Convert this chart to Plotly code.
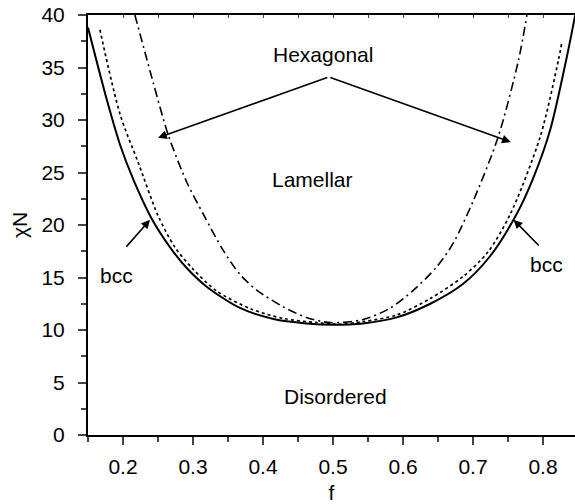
import plotly.graph_objects as go

# order-disorder boundary (solid)
f_odt = [0.150, 0.177, 0.196, 0.215, 0.241, 0.267, 0.291, 0.320, 0.367, 0.415, 0.462, 0.500,
         0.543, 0.591, 0.639, 0.686, 0.724, 0.762, 0.785, 0.810, 0.834, 0.846]
chi_odt = [38.8, 31.9, 27.6, 24.3, 20.6, 17.9, 15.9, 14.1, 12.1, 11.05, 10.63, 10.5,
           10.63, 11.2, 12.5, 14.4, 17.0, 21.0, 24.3, 29.0, 36.0, 40.0]

# bcc / hexagonal boundary (dotted)
f_bh = [0.167, 0.196, 0.222, 0.250, 0.274, 0.300, 0.334, 0.383, 0.429, 0.477, 0.510,
        0.543, 0.591, 0.639, 0.686, 0.721, 0.753, 0.796, 0.822, 0.827]
chi_bh = [38.6, 30.5, 25.9, 20.9, 17.9, 15.8, 13.7, 12.0, 11.1, 10.7, 10.55,
          10.8, 11.43, 13.0, 15.1, 17.4, 21.0, 28.4, 35.7, 37.4]

# hexagonal / lamellar boundary (dash-dot)
f_hl = [0.217, 0.243, 0.265, 0.291, 0.315, 0.343, 0.367, 0.391, 0.429, 0.462, 0.496,
        0.543, 0.581, 0.615, 0.648, 0.672, 0.701, 0.736, 0.765, 0.777]
chi_hl = [40.0, 33.6, 28.5, 24.1, 21.0, 17.6, 15.3, 13.8, 12.2, 11.2, 10.7,
          11.0, 12.06, 13.8, 16.0, 18.3, 22.4, 28.4, 35.7, 40.0]

fnt = dict(family="Liberation Sans, Arial, sans-serif", size=21, color="black")

fig = go.Figure()
fig.add_trace(go.Scatter(x=f_odt, y=chi_odt, mode="lines", line=dict(color="black", width=2, shape="spline", smoothing=0.8), showlegend=False))
fig.add_trace(go.Scatter(x=f_bh, y=chi_bh, mode="lines", line=dict(color="black", width=1.7, dash="3px,3px", shape="spline", smoothing=0.8), showlegend=False))
fig.add_trace(go.Scatter(x=f_hl, y=chi_hl, mode="lines", line=dict(color="black", width=1.6, dash="9px,4px,2px,4px", shape="spline", smoothing=0.8), showlegend=False))
# dummy trace so the top axis gets drawn
fig.add_trace(go.Scatter(x=[None], y=[None], xaxis="x2", showlegend=False))

arr = dict(showarrow=True, arrowhead=2, arrowsize=1.1, arrowwidth=1.6, arrowcolor="black",
           axref="x", ayref="y", text="", standoff=0)
annos = [
    dict(x=0.250, y=28.3, ax=0.494, ay=34.1, **arr),
    dict(x=0.754, y=27.9, ax=0.494, ay=34.1, **arr),
    dict(x=0.2386, y=20.5, ax=0.203, ay=17.8, **arr),
    dict(x=0.758, y=20.5, ax=0.796, ay=17.9, **arr),
    dict(x=0.486, y=36.2, text="Hexagonal", showarrow=False, font=fnt),
    dict(x=0.470, y=24.3, text="Lamellar", showarrow=False, font=fnt),
    dict(x=0.503, y=3.64, text="Disordered", showarrow=False, font=fnt),
    dict(x=0.190, y=15.2, text="bcc", showarrow=False, font=fnt),
    dict(x=0.805, y=16.2, text="bcc", showarrow=False, font=fnt),
]

xr = [0.15, 0.8457]
fig.update_layout(
    width=575, height=504,
    margin=dict(l=88, r=0, t=15, b=69, autoexpand=False),
    paper_bgcolor="white", plot_bgcolor="white",
    font=fnt,
    annotations=annos,
    xaxis=dict(range=xr, tickvals=[0.2, 0.3, 0.4, 0.5, 0.6, 0.7, 0.8],
               ticktext=["0.2", "0.3", "0.4", "0.5", "0.6", "0.7", "0.8"],
               ticks="outside", ticklen=8, tickwidth=1.6, showgrid=False, zeroline=False,
               showline=True, linewidth=2, linecolor="black", automargin=False, ticklabelstandoff=4,
               minor=dict(ticks="outside", ticklen=5, tickwidth=1.6, dtick=0.05, tick0=0.15, showgrid=False),
               title=dict(text="f", font=fnt, standoff=8), tickfont=fnt),
    xaxis2=dict(range=xr, overlaying="x", side="top", anchor="y", showgrid=False, zeroline=False,
                showline=True, linewidth=2, linecolor="black", ticks="inside", ticklen=3, tickwidth=1.4,
                dtick=0.05, tick0=0.15, showticklabels=False, automargin=False),
    yaxis=dict(range=[0, 40], dtick=5, ticks="outside", ticklen=8, tickwidth=1.6, showgrid=False, zeroline=False,
               showline=True, linewidth=2, linecolor="black", automargin=False, ticklabelstandoff=9,
               minor=dict(ticks="outside", ticklen=5, tickwidth=1.6, dtick=2.5, showgrid=False),
               title=dict(text="χN", font=fnt, standoff=8), tickfont=fnt),
)

fig.write_html("out.html", config={"displayModeBar": False},
               post_script="document.body.style.margin='0';document.body.style.overflow='hidden';")
